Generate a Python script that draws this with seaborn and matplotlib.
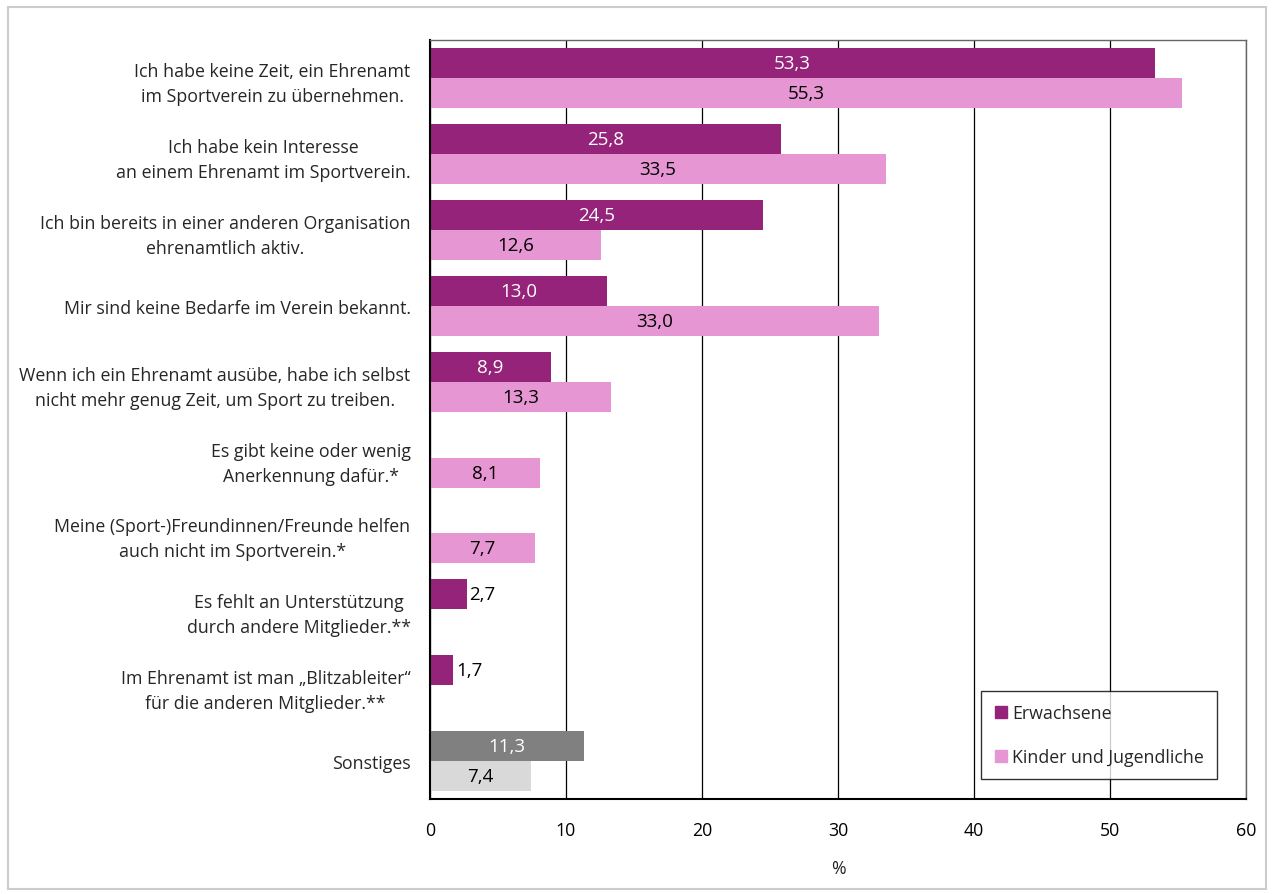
import numpy as np
import pandas as pd
import matplotlib
matplotlib.use("Agg")
import matplotlib.pyplot as plt
import seaborn as sns
from matplotlib.patches import Rectangle

# data
categories = [
    "Ich habe keine Zeit, ein Ehrenamt\nim Sportverein zu übernehmen.",
    "Ich habe kein Interesse\nan einem Ehrenamt im Sportverein.",
    "Ich bin bereits in einer anderen Organisation\nehrenamtlich aktiv.",
    "Mir sind keine Bedarfe im Verein bekannt.",
    "Wenn ich ein Ehrenamt ausübe, habe ich selbst\nnicht mehr genug Zeit, um Sport zu treiben.",
    "Es gibt keine oder wenig\nAnerkennung dafür.*",
    "Meine (Sport-)Freundinnen/Freunde helfen\nauch nicht im Sportverein.*",
    "Es fehlt an Unterstützung\ndurch andere Mitglieder.**",
    "Im Ehrenamt ist man „Blitzableiter“\nfür die anderen Mitglieder.**",
    "Sonstiges",
]
erwachsene = [53.3, 25.8, 24.5, 13.0, 8.9, np.nan, np.nan, 2.7, 1.7, 11.3]
kinder = [55.3, 33.5, 12.6, 33.0, 13.3, 8.1, 7.7, np.nan, np.nan, 7.4]
series = ["Erwachsene", "Kinder und Jugendliche"]

dark = "#95237a"
light = "#e596d3"
gray_dark = "#808080"
gray_light = "#d9d9d9"

df = pd.DataFrame({"cat": categories * 2,
                   "value": erwachsene + kinder,
                   "group": [series[0]] * len(categories) + [series[1]] * len(categories)})

sns.set_style("white")
plt.rcParams["font.family"] = ["Open Sans", "DejaVu Sans"]
fs = 12.8

fig = plt.figure(figsize=(12.74, 8.95), dpi=100)
ax = fig.add_axes([0.3375, 0.106, 0.6405, 0.848])

sns.barplot(data=df, y="cat", x="value", hue="group", hue_order=series,
            palette=[dark, light], saturation=1, width=0.79, orient="h", ax=ax,
            edgecolor="none", linewidth=0, legend=False)

ax.set_xlim(0, 60)
ax.set_ylim(len(categories) - 0.5, -0.5)
ax.set_xticks(range(0, 61, 10))
ax.tick_params(axis="x", labelsize=fs, length=6, width=1, direction="out", pad=10, colors="black")
ax.set_yticks(np.arange(len(categories)))
ax.set_yticklabels(categories, fontsize=fs, multialignment="center", linespacing=1.5)
ax.tick_params(axis="y", length=0, pad=14)
# tick marks on category boundaries
ax.set_yticks(np.arange(-0.5, len(categories), 1), minor=True)
ax.tick_params(axis="y", which="minor", length=6, width=1, direction="out")
ax.set_xlabel("%", fontsize=fs, labelpad=14)
ax.set_ylabel("")

ax.grid(axis="x", color="black", linewidth=0.9)
ax.set_axisbelow(True)
for side in ["left", "bottom"]:
    ax.spines[side].set_color("black")
    ax.spines[side].set_linewidth(1.5)
for side in ["top", "right"]:
    ax.spines[side].set_color("#666666")
    ax.spines[side].set_linewidth(1)

# value labels, gray colors for "Sonstiges"
for bar in ax.patches:
    v = bar.get_width()
    if np.isnan(v) or v == 0:
        continue
    cy = bar.get_y() + bar.get_height() / 2
    j = int(round(cy))
    first = cy < j
    if j == len(categories) - 1:
        bar.set_facecolor(gray_dark if first else gray_light)
    txt = f"{v:.1f}".replace(".", ",")
    if v < 5:
        ax.text(v + 0.2, cy, txt, ha="left", va="center", fontsize=13.5, color="black")
    else:
        ax.text(v / 2, cy, txt, ha="center", va="center", fontsize=13.5,
                color="white" if first else "black")

handles = [Rectangle((0, 0), 1, 1, color=dark), Rectangle((0, 0), 1, 1, color=light)]
leg = ax.legend(handles, series, loc="lower right", bbox_to_anchor=(0.965, 0.026),
                borderaxespad=0, fontsize=fs, frameon=True, fancybox=False, edgecolor="black",
                handlelength=0.7, handleheight=0.7, handletextpad=0.3,
                labelspacing=1.45, borderpad=0.75)
leg.get_frame().set_linewidth(1)

fig.patches.append(Rectangle((0.006, 0.006), 0.988, 0.985, transform=fig.transFigure,
                             fill=False, edgecolor="#cccccc", linewidth=1.5))

fig.savefig("out.png", dpi=100)
